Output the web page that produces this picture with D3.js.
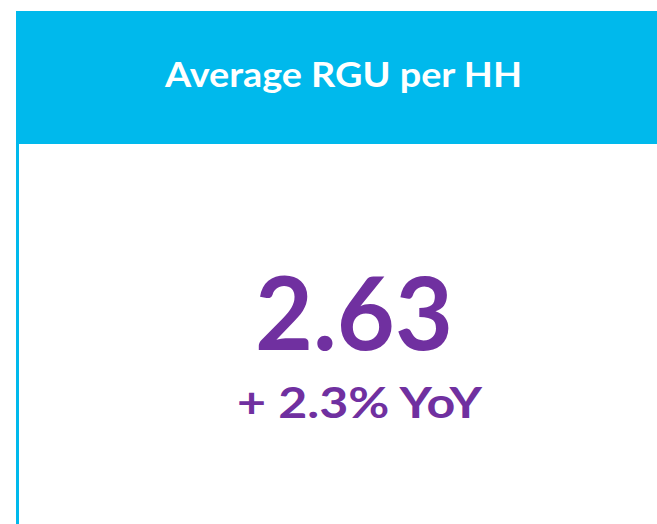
<!DOCTYPE html>
<html>
<head>
<meta charset="utf-8">
<script src="https://cdn.jsdelivr.net/npm/d3@7"></script>
<style>
    html, body { margin: 0; padding: 0; background: #fff; }
    svg { display: block; }
</style>
</head>
<body>
<div id="card"></div>
<script>
// KPI data
const titles = ['Average RGU per HH'];
const kpiValues = [2.63];
const yoyChanges = [2.3];

const width = 657;
const height = 524;
const cyan = '#00B9EC';
const purple = '#7030A0';
const font = 'Lato, sans-serif';

const svg = d3.select('#card')
    .append('svg')
    .attr('width', width)
    .attr('height', height);

// Header band
svg.append('rect')
    .attr('x', 16)
    .attr('y', 11)
    .attr('width', width - 16)
    .attr('height', 133)
    .attr('fill', cyan);

// Left border of the card
svg.append('rect')
    .attr('x', 16)
    .attr('y', 11)
    .attr('width', 3)
    .attr('height', height - 11)
    .attr('fill', cyan);

const fmtValue = d3.format('.2f');
const fmtYoy = d => (d >= 0 ? '+ ' : '- ') + d3.format('.1f')(Math.abs(d)) + '% YoY';

svg.selectAll('text.title')
    .data(titles)
    .enter()
    .append('text')
    .attr('class', 'title')
    .attr('x', 343.5)
    .attr('y', 87)
    .attr('text-anchor', 'middle')
    .attr('fill', '#fff')
    .attr('font-family', font)
    .attr('font-weight', 'bold')
    .attr('font-size', 33.5)
    .attr('textLength', 357)
    .attr('lengthAdjust', 'spacingAndGlyphs')
    .text(d => d);

svg.selectAll('text.value')
    .data(kpiValues)
    .enter()
    .append('text')
    .attr('class', 'value')
    .attr('x', 354)
    .attr('y', 350)
    .attr('text-anchor', 'middle')
    .attr('fill', purple)
    .attr('font-family', font)
    .attr('font-weight', 'bold')
    .attr('font-size', 102)
    .attr('textLength', 198)
    .attr('lengthAdjust', 'spacingAndGlyphs')
    .text(d => fmtValue(d));

svg.selectAll('text.yoy')
    .data(yoyChanges)
    .enter()
    .append('text')
    .attr('class', 'yoy')
    .attr('x', 359.5)
    .attr('y', 418)
    .attr('text-anchor', 'middle')
    .attr('fill', purple)
    .attr('font-family', font)
    .attr('font-weight', 'bold')
    .attr('font-size', 42)
    .attr('textLength', 245)
    .attr('lengthAdjust', 'spacingAndGlyphs')
    .text(d => fmtYoy(d));
</script>
</body>
</html>
